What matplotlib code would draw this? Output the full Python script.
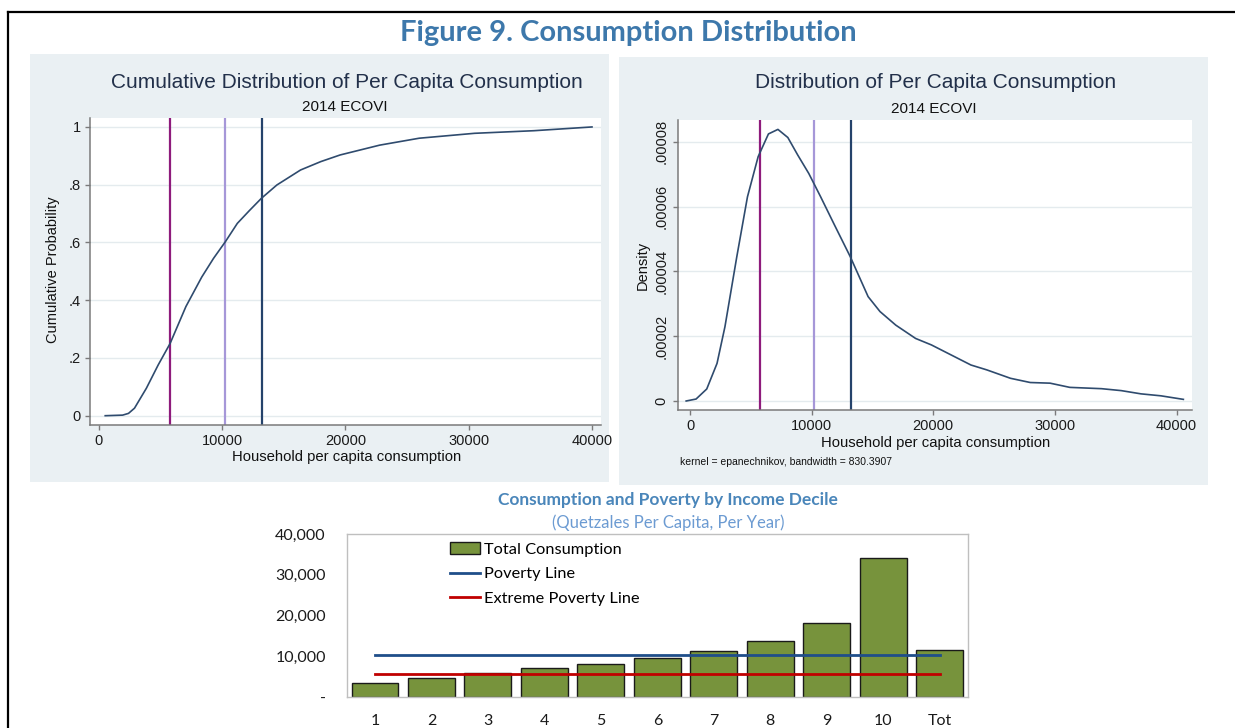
import matplotlib
matplotlib.use('Agg')
import matplotlib.pyplot as plt
from matplotlib.patches import Rectangle
from matplotlib.lines import Line2D
import numpy as np

W, H = 1235, 728
DPI = 100

# ---------------- data ----------------
cdf_x = [513, 1925, 2400, 2887, 3850, 4812, 5774, 7058, 8341, 9300, 10266, 11228,
         12200, 13185, 14436, 16361, 18000, 19569, 22777, 25985, 30476, 35288, 40000]
cdf_y = [0.0, 0.002, 0.008, 0.026, 0.095, 0.176, 0.25, 0.378, 0.48, 0.545, 0.603, 0.666,
         0.71, 0.753, 0.799, 0.851, 0.88, 0.903, 0.937, 0.961, 0.978, 0.987, 1.0]

dens_x = [-315, 498, 1376, 2222, 2872, 3847, 4725, 5604, 6449, 7229, 8043, 8856,
          9766, 10741, 11880, 13180, 14644, 15620, 16921, 18547, 19848, 21474,
          23100, 24401, 26352, 27978, 29604, 31230, 33832, 35458, 37084, 38710, 40564]
dens_y = [0.0e-6, 0.6e-6, 3.7e-6, 11.6e-6, 22.9e-6, 44.5e-6, 63.0e-6, 75.4e-6,
          82.4e-6, 83.8e-6, 81.3e-6, 75.9e-6, 70.2e-6, 63.0e-6, 54.3e-6, 44.5e-6,
          32.2e-6, 27.6e-6, 23.4e-6, 19.3e-6, 17.3e-6, 14.2e-6, 11.1e-6, 9.6e-6,
          7.0e-6, 5.7e-6, 5.5e-6, 4.2e-6, 3.8e-6, 3.2e-6, 2.2e-6, 1.6e-6, 0.5e-6]

ref_lines = [5750, 10218, 13200]
ref_colors = ['#8E1B7C', '#A697D8', '#25436B']

deciles = ['1', '2', '3', '4', '5', '6', '7', '8', '9', '10', 'Tot']
consumption = [3350, 4580, 5970, 7040, 8020, 9570, 11210, 13660, 18080, 34190, 11450]
poverty_line = [10218, 10218, 10218, 10218, 10218, 10218, 10218, 10218, 10218, 10218, 10218]
extreme_line = [5750, 5750, 5750, 5750, 5750, 5750, 5750, 5750, 5750, 5750, 5750]

cdf_xticks = [0, 10000, 20000, 30000, 40000]
cdf_yticks = [0, 0.2, 0.4, 0.6, 0.8, 1.0]
cdf_yticklabels = ['0', '.2', '.4', '.6', '.8', '1']
dens_yticks = [0, 0.00002, 0.00004, 0.00006, 0.00008]
dens_yticklabels = ['0', '.00002', '.00004', '.00006', '.00008']
bar_yticks = [0, 10000, 20000, 30000, 40000]
bar_yticklabels = ['-', '10,000', '20,000', '30,000', '40,000']

# ---------------- helpers ----------------
fig = plt.figure(figsize=(W / DPI, H / DPI), dpi=DPI)
fig.patch.set_facecolor('white')


def rect(x0, y0, x1, y1):
    return [x0 / W, 1 - y1 / H, (x1 - x0) / W, (y1 - y0) / H]


def ftext(x, y, s, **kw):
    return fig.text(x / W, 1 - y / H, s, **kw)


STATA = 'Liberation Sans'
CAL = 'Lato'
PANEL_BG = '#EAF0F3'
GRID = '#E4EBEE'
SPINE = '#7A7A7A'
CURVE = '#2F4B6E'
TITLE_STATA = '#22304A'

# outer frame
fig.add_artist(Line2D([8 / W, 8 / W], [0, 1 - 11.5 / H], transform=fig.transFigure,
                      color='black', lw=1.6))
fig.add_artist(Line2D([8 / W, 1.0], [1 - 11.5 / H, 1 - 11.5 / H], transform=fig.transFigure,
                      color='black', lw=1.6))

# panel backgrounds
for (x0, y0, x1, y1) in [(29.7, 54, 609, 482), (619, 57, 1208, 485)]:
    fig.add_artist(Rectangle((x0 / W, 1 - y1 / H), (x1 - x0) / W, (y1 - y0) / H,
                             transform=fig.transFigure, facecolor=PANEL_BG,
                             edgecolor='none', zorder=-5))

# main title
ftext(628, 33, 'Figure 9. Consumption Distribution', ha='center', va='center',
      fontsize=21, fontweight='bold', family=CAL, color='#3D78AB')


def stata_axes(ax):
    ax.set_facecolor('white')
    for s in ['top', 'right']:
        ax.spines[s].set_visible(False)
    for s in ['left', 'bottom']:
        ax.spines[s].set_color(SPINE)
        ax.spines[s].set_linewidth(1.1)
    ax.tick_params(axis='both', length=3.6, width=1, color=SPINE, labelcolor='#1a1a1a',
                   labelsize=10.5, pad=3)
    for lab in ax.get_xticklabels() + ax.get_yticklabels():
        lab.set_family(STATA)
    ax.yaxis.grid(True, color=GRID, lw=1)
    ax.set_axisbelow(True)


# ---------------- left: CDF ----------------
ax1 = fig.add_axes(rect(90.2, 118, 601, 425))
ax1.plot(cdf_x, cdf_y, color=CURVE, lw=1.2, zorder=3)
for v, c in zip(ref_lines, ref_colors):
    ax1.axvline(v, color=c, lw=1.6, zorder=2)
ax1.set_xlim(-706, 40731)
ax1.set_ylim(-0.0322, 1.031)
ax1.set_xticks(cdf_xticks)
ax1.set_xticklabels([str(t) for t in cdf_xticks])
ax1.set_yticks(cdf_yticks)
ax1.set_yticklabels(cdf_yticklabels)
stata_axes(ax1)

ftext(347, 82, 'Cumulative Distribution of Per Capita Consumption', ha='center', va='center',
      fontsize=15, family=STATA, color=TITLE_STATA)
ftext(345, 107, '2014 ECOVI', ha='center', va='center', fontsize=11, family=STATA, color='#111111')
ftext(347, 457, 'Household per capita consumption', ha='center', va='center', fontsize=10.7,
      family=STATA, color='#111111')
ftext(53, 270, 'Cumulative Probability', ha='center', va='center', rotation=90, fontsize=10.5,
      family=STATA, color='#111111')

# ---------------- right: density ----------------
ax2 = fig.add_axes(rect(677.5, 120, 1192, 410))
ax2.plot(dens_x, dens_y, color=CURVE, lw=1.2, zorder=3)
for v, c in zip(ref_lines, ref_colors):
    ax2.axvline(v, color=c, lw=1.6, zorder=2)
ax2.set_xlim(-1028, 41274)
ax2.set_ylim(-2.78e-6, 8.67e-5)
ax2.set_xticks(cdf_xticks)
ax2.set_xticklabels([str(t) for t in cdf_xticks])
ax2.set_yticks(dens_yticks)
ax2.set_yticklabels(dens_yticklabels, rotation=90, va='center')
stata_axes(ax2)

ftext(936, 83, 'Distribution of Per Capita Consumption', ha='center', va='center',
      fontsize=15, family=STATA, color=TITLE_STATA)
ftext(934, 109, '2014 ECOVI', ha='center', va='center', fontsize=11, family=STATA, color='#111111')
ftext(936, 443, 'Household per capita consumption', ha='center', va='center', fontsize=10.7,
      family=STATA, color='#111111')
ftext(643, 265, 'Density', ha='center', va='center', rotation=90, fontsize=10.5,
      family=STATA, color='#111111')
ftext(680, 462, 'kernel = epanechnikov, bandwidth = 830.3907', ha='left', va='center',
      fontsize=7.5, family=STATA, color='#111111')

# ---------------- bottom: bars ----------------
ax3 = fig.add_axes(rect(346.7, 534, 968, 697))
xpos = np.arange(len(deciles))
bars = ax3.bar(xpos, consumption, width=0.83, color='#77933C', edgecolor='#1a1a1a', lw=1.0, zorder=2)
l1, = ax3.plot(xpos, poverty_line, color='#1F4E8A', lw=2.0, zorder=3)
l2, = ax3.plot(xpos, extreme_line, color='#C00000', lw=2.0, zorder=3)
ax3.set_xlim(-0.5, 10.5)
ax3.set_ylim(0, 40000)
ax3.set_xticks(xpos)
ax3.set_xticklabels(deciles)
ax3.set_yticks(bar_yticks)
ax3.set_yticklabels(bar_yticklabels)
for s in ax3.spines.values():
    s.set_color('#BFBFBF')
    s.set_linewidth(1.0)
ax3.tick_params(axis='both', length=0, labelsize=11.5, labelcolor='#1a1a1a')
ax3.tick_params(axis='y', pad=15)
ax3.tick_params(axis='x', pad=12)
for lab in ax3.get_xticklabels() + ax3.get_yticklabels():
    lab.set_family(CAL)
leg = ax3.legend([bars, l1, l2], ['Total Consumption', 'Poverty Line', 'Extreme Poverty Line'],
                 loc='upper left', bbox_to_anchor=((450 - 346.7) / 621.3, 0.95),
                 frameon=False, borderaxespad=0, borderpad=0, handlelength=1.85,
                 handletextpad=0.2, labelspacing=0.62, prop={'family': CAL, 'size': 11.8})

ftext(668, 500, 'Consumption and Poverty by Income Decile', ha='center', va='center',
      fontsize=12.5, fontweight='bold', family=CAL, color='#4A86BA')
ftext(668, 523, '(Quetzales Per Capita, Per Year)', ha='center', va='center',
      fontsize=12, family=CAL, color='#6C9BD2')

fig.savefig('out.png', dpi=DPI, facecolor='white')
